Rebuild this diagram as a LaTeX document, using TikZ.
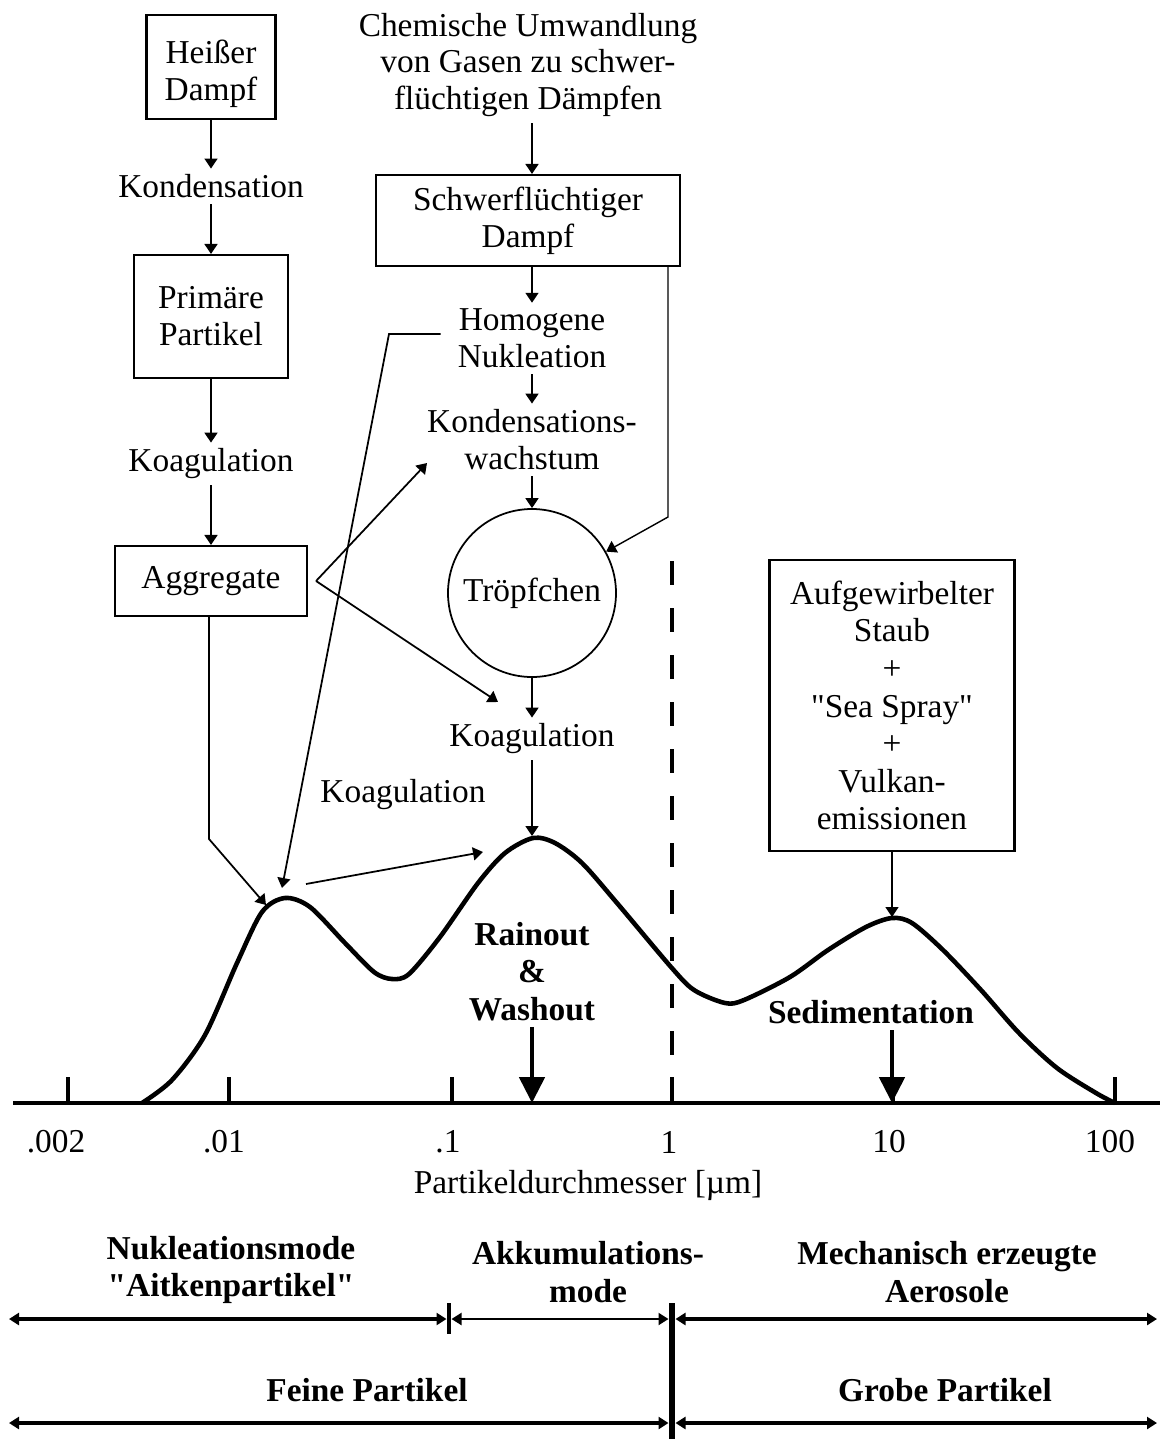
\documentclass[tikz,border=0pt]{standalone}
\usepackage{fontspec}
\setmainfont{Liberation Serif}[Ligatures=TeXOff]
\usetikzlibrary{arrows.meta}

\begin{document}
\begin{tikzpicture}[
  x=0.2mm, y=-0.2mm,
  every node/.style={font=\fontsize{19}{21}\selectfont},
  box/.style={draw,line width=1.2pt,align=center},
  lbl/.style={align=center},
  bold/.style={align=center,font=\fontsize{19}{21.3}\selectfont\bfseries},
  arr/.style={-{Triangle[length=2mm,width=2.6mm]},line width=1pt},
  bigarr/.style={-{Triangle[length=5.2mm,width=5mm]},line width=2.8pt},
  span/.style={<->,>={Triangle[length=2mm,width=2.4mm]},line width=1.9pt},
  curve/.style={line width=2.6pt,line join=round},
  tick/.style={line width=2.6pt}
]
\useasboundingbox (0,0) rectangle (1160,1439);

\node[box,minimum width=25.8mm,minimum height=20.8mm] (hdampf) at (211,67) {\rule{0pt}{21pt}Heißer\\Dampf};
\node[lbl] (kond) at (211,186.5) {Kondensation};
\node[box,minimum width=30.8mm,minimum height=24.6mm] (primp) at (211,316.5) {Primäre\\Partikel};
\node[lbl] (koagA) at (211,464) {Koagulation};
\node[box,minimum width=38.4mm,minimum height=14mm] (aggr) at (211,581) {Aggregate};

\node[lbl] (chem) at (528,65) {Chemische Umwandlung\\von Gasen zu schwer-\\flüchtigen Dämpfen};
\node[box,minimum width=60.8mm,minimum height=18.2mm] (sdampf) at (528,220.5) {Schwerflüchtiger\\Dampf};
\node[lbl] (homnuk) at (532,338.5) {Homogene\\Nukleation};
\node[lbl] (kondw) at (532,440) {Kondensations-\\wachstum};
\node[draw,circle,line width=1pt,minimum size=33.6mm] (tropf) at (532,593) {Tröpfchen};
\node[lbl] (koagB) at (532,739) {Koagulation};
\node[lbl] (koagC) at (403,795) {Koagulation};

\node[box,minimum width=49mm,minimum height=58.2mm,font=\fontsize{19}{21.4}\selectfont] (quellen) at (892,705.5)
  {Aufgewirbelter\\Staub\\+\\"Sea Spray"\\+\\Vulkan-\\emissionen};

\node[bold] (rain) at (532,971.5) {Rainout\\\&\\Washout};
\node[bold] (sedi) at (871,1012.5) {Sedimentation};

\coordinate (axL) at (13,1103);
\coordinate (axR) at (1160,1103);
\coordinate (pk2) at (532,836);
\coordinate (pk3) at (892,917);

\draw[curve] plot[smooth,tension=0.5] coordinates {(142,1103) (172,1080) (205,1035)
  (237,963) (262,912) (285,898) (310,907) (345,943) (374,972) (392,979) (409,974)
  (440,937) (478,883) (505,853) (533,838) (555,843) (582,863)
  (617,903) (671,967) (694,990) (725,1003) (744,1000) (790,977) (828,950) (866,927) (892,918)
  (912,923) (943,950) (981,990) (1019,1033) (1057,1068) (1096,1093) (1115,1103)};

\draw[line width=2.8pt,dash pattern=on 4.8mm off 4.6mm] (672,561) -- (672,1103);
\draw[line width=2.8pt] (axL) -- (axR);
\draw[tick] (68,1077) -- (68,1103);
\draw[tick] (229,1077) -- (229,1103);
\draw[tick] (452,1077) -- (452,1103);
\draw[tick] (672,1077) -- (672,1103);
\draw[tick] (893,1077) -- (893,1103);
\draw[tick] (1115,1077) -- (1115,1103);

\node (l002) at (56,1142) {.002};
\node (l01) at (224,1142) {.01};
\node (l1) at (448,1142) {.1};
\node (l1m) at (669,1142) {1};
\node (l10) at (889,1142) {10};
\node (l100) at (1110,1142) {100};
\node (achse) at (588,1185) {Partikeldurchmesser [µm]};

\draw[arr] (hdampf) -- (kond);
\draw[arr] (kond) -- (primp);
\draw[arr] (primp) -- (koagA);
\draw[arr] (koagA) -- (aggr);
\draw[arr] (chem.south -| tropf) -- (sdampf.north -| tropf);
\draw[arr] (sdampf.south -| tropf) -- (homnuk);
\draw[arr] (homnuk) -- (kondw);
\draw[arr] (kondw) -- (tropf);
\draw[arr] (tropf) -- (koagB);
\draw[arr] (koagB) -- (pk2);
\draw[arr] (quellen) -- (pk3);

\coordinate (sbend) at (668,517);
\draw[arr,line width=0.8pt] (sdampf.south -| sbend) -- (sbend) -- (tropf);
\coordinate (abend) at (209,839);
\coordinate (pk1a) at (266,905);
\draw[arr] (aggr.south -| abend) -- (abend) -- (pk1a);
\coordinate (hbend) at (389,334);
\coordinate (pk1b) at (282,888);
\draw[arr] ([xshift=-2.2mm]homnuk.west |- hbend) -- (hbend) -- (pk1b);
\coordinate (asplit) at ([xshift=1.6mm]aggr.east);
\coordinate (kwtip) at (427,463);
\coordinate (kbtip) at (498,702);
\draw[arr] (asplit) -- (kwtip);
\draw[arr] (asplit) -- (kbtip);
\coordinate (p1r) at (306,884);
\coordinate (p2l) at (483,852);
\draw[arr] (p1r) -- (p2l);

\draw[bigarr] (rain.south) -- (rain.south |- axL);
\draw[bigarr] (sedi.south -| pk3) -- (pk3 |- axL);

\node[bold] (nukmode) at (231,1270) {Nukleationsmode\\"Aitkenpartikel"};
\node[bold] (akkmode) at (588,1272) {Akkumulations-\\mode};
\node[bold] (mechaer) at (947,1272) {Mechanisch erzeugte\\Aerosole};
\node[bold] (feine) at (367,1390) {Feine Partikel};
\node[bold] (grobe) at (945,1390) {Grobe Partikel};

\coordinate (oL) at (9,1319);
\coordinate (oM) at (449,1319);
\coordinate (oC) at (672,1319);
\coordinate (oR) at (1157,1319);
\coordinate (uL) at (9,1423);
\coordinate (uC) at (672,1423);
\coordinate (uR) at (1157,1423);
\draw[span] (oL) -- ([xshift=-0.5mm]oM);
\draw[span,line width=1.2pt] ([xshift=0.5mm]oM) -- ([xshift=-0.7mm]oC);
\draw[span] ([xshift=0.7mm]oC) -- (oR);
\draw[span] (uL) -- ([xshift=-0.7mm]uC);
\draw[span] ([xshift=0.7mm]uC) -- (uR);
\draw[line width=2.8pt] (449,1303) -- (449,1334);
\draw[line width=3.6pt] (672,1303) -- (672,1439);
\end{tikzpicture}
\end{document}
